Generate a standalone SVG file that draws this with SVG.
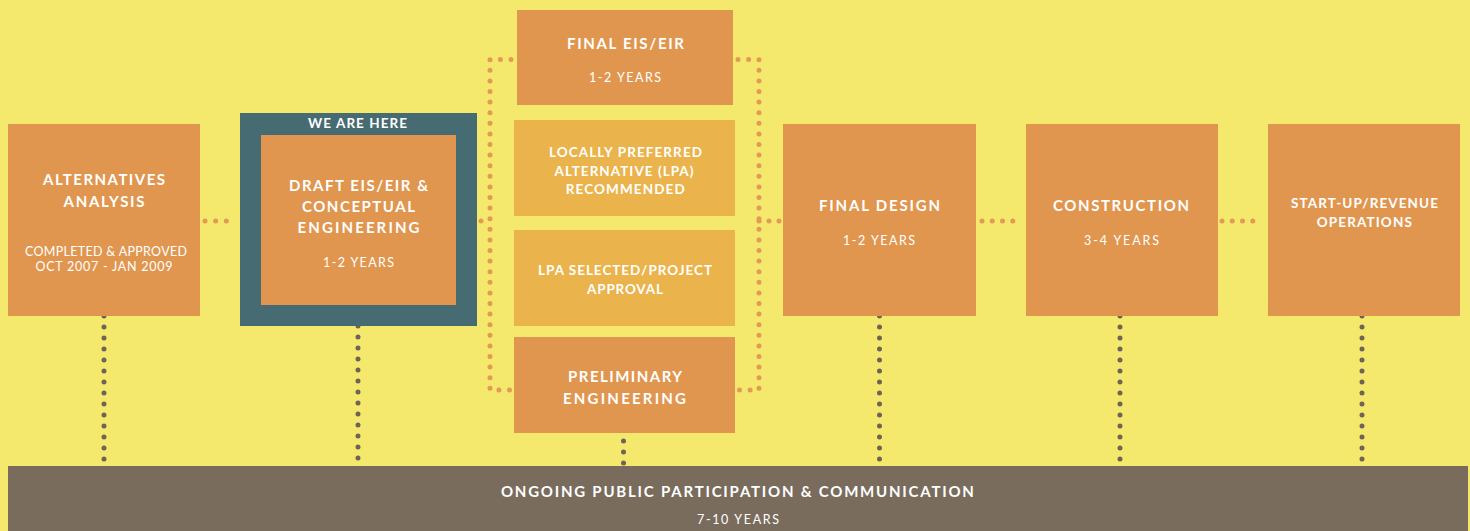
<svg xmlns="http://www.w3.org/2000/svg" width="1470" height="531" viewBox="0 0 1470 531">
<style>
.bg{fill:#F4E96C}
.box{fill:#E0964F}
.lbox{fill:#EAB34C}
.frame{fill:#466B73}
.bar{fill:#7A6C5C}
.od{fill:none;stroke:#E39A56;stroke-width:5;stroke-linecap:round}
.gd{fill:none;stroke:#6E6356;stroke-width:5;stroke-linecap:round;stroke-dasharray:0 11}
text{font-family:Lato,"Open Sans","Liberation Sans",sans-serif;fill:#FFFFFF;text-anchor:middle}
.t{font-weight:700;font-size:15px}
.ts{font-weight:700;font-size:13.5px}
.s{font-weight:400;font-size:12.5px}
</style>
<rect class="bg" x="0" y="0" width="1470" height="531"/>
<g id="connectors">
<path class="od" d="M205 221H237" stroke-dasharray="0 10.67"/>
<path class="od" d="M481 221H482" stroke-dasharray="0 20"/>
<path class="od" d="M511 59.5H490V390H511" stroke-dasharray="0 10.6"/>
<path class="od" d="M738 59.5H759V390H738" stroke-dasharray="0 10.6"/>
<path class="od" d="M759 221H780" stroke-dasharray="0 10"/>
<path class="od" d="M982 221H1023" stroke-dasharray="0 10.25"/>
<path class="od" d="M1222 221H1263" stroke-dasharray="0 10.25"/>
<path class="gd" d="M104 316V466"/>
<path class="gd" d="M358 326V466"/>
<path class="gd" d="M623.5 441V464"/>
<path class="gd" d="M879.5 316V466"/>
<path class="gd" d="M1120 316V466"/>
<path class="gd" d="M1362 316V466"/>
</g>
<g id="alternatives-analysis">
<rect class="box" x="8" y="124" width="192" height="192"/>
<text class="t" x="104" y="185" textLength="122" lengthAdjust="spacing">ALTERNATIVES</text>
<text class="t" x="104" y="206.5" textLength="81" lengthAdjust="spacing">ANALYSIS</text>
<text class="s" x="106" y="255.5" textLength="162" lengthAdjust="spacing">COMPLETED &amp; APPROVED</text>
<text class="s" x="104" y="271" textLength="137" lengthAdjust="spacing">OCT 2007 - JAN 2009</text>
</g>
<g id="draft-eis-eir">
<rect class="frame" x="240" y="113" width="237" height="213"/>
<text class="ts" x="357.5" y="128" textLength="99" lengthAdjust="spacing">WE ARE HERE</text>
<rect class="box" x="261" y="135" width="195" height="170"/>
<text class="t" x="358.5" y="190.5" textLength="139" lengthAdjust="spacing">DRAFT EIS/EIR &amp;</text>
<text class="t" x="358.5" y="211.5" textLength="113" lengthAdjust="spacing">CONCEPTUAL</text>
<text class="t" x="358.5" y="233" textLength="122" lengthAdjust="spacing">ENGINEERING</text>
<text class="s" x="358.5" y="266.5" textLength="71" lengthAdjust="spacing">1-2 YEARS</text>
</g>
<g id="final-eis-eir">
<rect class="box" x="517" y="10" width="216" height="95"/>
<text class="t" x="625.5" y="49.3" textLength="117" lengthAdjust="spacing">FINAL EIS/EIR</text>
<text class="s" x="625" y="81.5" textLength="72" lengthAdjust="spacing">1-2 YEARS</text>
</g>
<g id="lpa-recommended">
<rect class="lbox" x="514" y="120" width="221" height="96"/>
<text class="ts" x="625.5" y="156.7" textLength="153" lengthAdjust="spacing">LOCALLY PREFERRED</text>
<text class="ts" x="624" y="175.7" textLength="139" lengthAdjust="spacing">ALTERNATIVE (LPA)</text>
<text class="ts" x="625.2" y="194.3" textLength="119" lengthAdjust="spacing">RECOMMENDED</text>
</g>
<g id="lpa-selected">
<rect class="lbox" x="514" y="230" width="221" height="96"/>
<text class="ts" x="625" y="275.3" textLength="174" lengthAdjust="spacing">LPA SELECTED/PROJECT</text>
<text class="ts" x="625" y="294" textLength="76" lengthAdjust="spacing">APPROVAL</text>
</g>
<g id="preliminary-engineering">
<rect class="box" x="514" y="337" width="221" height="96"/>
<text class="t" x="625" y="382.3" textLength="114" lengthAdjust="spacing">PRELIMINARY</text>
<text class="t" x="624.5" y="404.3" textLength="123" lengthAdjust="spacing">ENGINEERING</text>
</g>
<g id="final-design">
<rect class="box" x="783" y="124" width="193" height="192"/>
<text class="t" x="879.5" y="210.7" textLength="121" lengthAdjust="spacing">FINAL DESIGN</text>
<text class="s" x="879" y="245" textLength="72" lengthAdjust="spacing">1-2 YEARS</text>
</g>
<g id="construction">
<rect class="box" x="1026" y="124" width="192" height="192"/>
<text class="t" x="1121" y="211" textLength="136" lengthAdjust="spacing">CONSTRUCTION</text>
<text class="s" x="1121.5" y="245" textLength="75" lengthAdjust="spacing">3-4 YEARS</text>
</g>
<g id="start-up">
<rect class="box" x="1268" y="124" width="192" height="192"/>
<text class="ts" x="1364.5" y="208.3" textLength="147" lengthAdjust="spacing">START-UP/REVENUE</text>
<text class="ts" x="1364.3" y="226.7" textLength="95" lengthAdjust="spacing">OPERATIONS</text>
</g>
<g id="public-participation">
<rect class="bar" x="8" y="466" width="1460" height="65"/>
<text class="t" x="737.4" y="496.7" textLength="473" lengthAdjust="spacing">ONGOING PUBLIC PARTICIPATION &amp; COMMUNICATION</text>
<text class="s" x="738" y="523.7" textLength="82" lengthAdjust="spacing">7-10 YEARS</text>
</g>
</svg>
